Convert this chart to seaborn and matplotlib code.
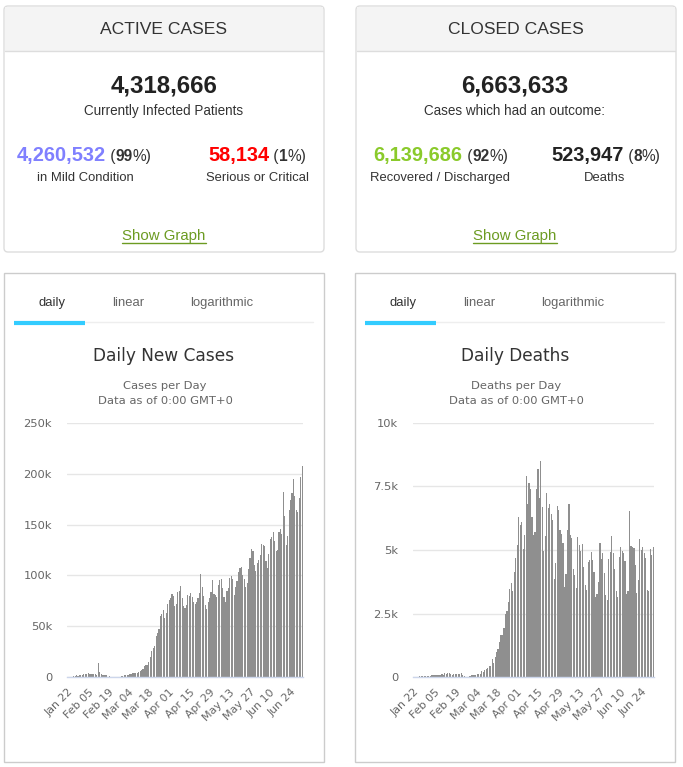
import matplotlib
matplotlib.use("Agg")
import matplotlib.pyplot as plt
import matplotlib.transforms as mtrans
from matplotlib.patches import FancyBboxPatch, Rectangle
from matplotlib.lines import Line2D
import seaborn as sns
import pandas as pd
import numpy as np

# ---------------- data ----------------
start_date = "2020-01-22"
tick_labels = ["Jan 22", "Feb 05", "Feb 19", "Mar 04", "Mar 18", "Apr 01", "Apr 15",
               "Apr 29", "May 13", "May 27", "Jun 10", "Jun 24"]

# daily new cases, thousands
cases_jan = [0, 0, 0, 0, 0.7, 0.8, 1.5, 1.2, 2.0, 1.7]
cases_feb = [2.1, 2.5, 3.1, 3.0, 3.5, 3.2, 3.4, 2.7, 3.0, 2.5, 2.0, 13.5, 5.0, 2.6, 2.0,
             2.0, 1.9, 1.8, 0.4, 0.5, 0.3, 0.2, 0.2, 0.3, 0.2, 0.2, 0.3, 1.2, 1.3]
cases_mar = [1.5, 1.8, 2.0, 2.2, 2.6, 3.0, 3.5, 3.9, 4.0, 4.2, 4.6, 5.5, 6.6, 7.8, 10.5,
             11.8, 11.5, 14.8, 19.7, 26.0, 28.6, 31.0, 40.0, 43.0, 47.0, 60.0, 62.5, 66.0,
             58.5, 63.0, 72.0]
cases_apr = [75.6, 78, 82, 80, 70, 72, 84, 84.5, 90, 78, 70, 68.4, 71, 81, 80, 83, 79, 74,
             72, 74, 78, 83, 101, 89, 80, 71, 67, 74, 78, 84]
cases_may = [95, 82, 81, 79, 91, 95, 96, 88, 79, 74, 85, 88, 97, 99, 96, 81, 89, 94, 103,
             107, 108, 100, 96, 89, 93, 106, 117, 126, 124, 110, 104]
cases_jun = [112, 115, 120, 131, 130, 129, 114, 107, 121, 136, 138, 143, 134, 124, 125, 143,
             146, 141, 182, 158, 130, 139, 164, 174, 181, 195, 178, 164, 162, 176]
cases_jul = [197, 208]

# daily deaths, thousands
deaths_jan = [0.017, 0.008, 0.016, 0.015, 0.024, 0.026, 0.026, 0.038, 0.043, 0.046]
deaths_feb = [0.045, 0.057, 0.064, 0.066, 0.073, 0.073, 0.086, 0.089, 0.097, 0.108, 0.097,
              0.150, 0.121, 0.143, 0.142, 0.106, 0.098, 0.136, 0.116, 0.119, 0.111, 0.099,
              0.155, 0.070, 0.020, 0.010, 0.005, 0.010, 0.020]
deaths_mar = [0.06, 0.07, 0.073, 0.084, 0.10, 0.104, 0.10, 0.23, 0.205, 0.28, 0.32, 0.35,
              0.42, 0.42, 0.69, 0.56, 0.79, 0.97, 1.10, 1.38, 1.65, 1.65, 1.93, 2.50, 2.60,
              2.95, 3.45, 3.70, 3.40, 4.15, 4.70]
deaths_apr = [5.2, 6.3, 6.0, 6.1, 5.05, 5.6, 7.9, 6.8, 7.65, 7.4, 6.3, 5.6, 5.7, 7.4, 8.2,
              7.05, 8.5, 6.7, 4.95, 5.55, 7.25, 6.65, 6.8, 6.4, 6.2, 3.85,
              4.49, 6.73, 6.57, 5.79]
deaths_may = [5.63, 5.29, 3.55, 4.06, 5.79, 6.80, 5.59, 5.46, 4.25, 4.02, 3.50, 5.51, 5.20,
              4.96, 5.25, 4.32, 3.63, 3.43, 4.53, 4.61, 4.92, 4.61, 4.15, 3.14, 3.25, 3.74,
              5.29, 4.66, 4.88, 4.11, 3.23]
deaths_jun = [3.04, 4.66, 4.92, 5.55, 4.88, 4.25, 3.40, 3.14, 4.74, 5.13, 4.96, 4.90, 4.58,
              3.27, 3.40, 6.53, 5.16, 5.13, 5.08, 4.41, 3.32, 3.80, 5.43, 5.00, 5.10, 4.87,
              4.70, 3.43, 3.38, 5.03]
deaths_jul = [4.82, 5.12]

cases = cases_jan + cases_feb + cases_mar + cases_apr + cases_may + cases_jun + cases_jul
deaths = deaths_jan + deaths_feb + deaths_mar + deaths_apr + deaths_may + deaths_jun + deaths_jul
n = min(len(cases), len(deaths))
dates = pd.date_range(start_date, periods=n, freq="D")
df = pd.DataFrame({"date": dates.strftime("%b %d"), "cases": cases[:n], "deaths": deaths[:n]})

cases_ticks = [0, 50, 100, 150, 200, 250]
cases_tick_labels = ["0", "50k", "100k", "150k", "200k", "250k"]
deaths_ticks = [0, 2.5, 5, 7.5, 10]
deaths_tick_labels = ["0", "2.5k", "5k", "7.5k", "10k"]

# ---------------- figure ----------------
W, H = 683, 767
sns.set_theme(style="white")
plt.rcParams["font.family"] = ["Liberation Sans", "DejaVu Sans"]
fig = plt.figure(figsize=(W / 100, H / 100), dpi=100)
fig.patch.set_facecolor("white")
PX = mtrans.Affine2D().scale(1 / W, -1 / H).translate(0, 1) + fig.transFigure
renderer = fig.canvas.get_renderer()


def pt(px):
    return px * 0.72


def txt(x, y, s, size, color="#333333", weight="normal", ha="center", family=None, **kw):
    return fig.text(x, y, s, transform=PX, fontsize=pt(size), color=color,
                    fontweight=weight, ha=ha, va="baseline",
                    family=family if family else ["Liberation Sans", "DejaVu Sans"], **kw)


def seq(xc, y, parts, ha="center"):
    items = []
    for s, size, weight, color in parts:
        t = txt(0, y, s, size, color, weight, ha="left")
        w = t.get_window_extent(renderer).width
        items.append((t, w))
    total = sum(w for _, w in items)
    x = xc - total / 2 if ha == "center" else xc
    for t, w in items:
        t.set_x(x)
        x += w


def panel_top(x0, x1, title):
    y0, y1 = 6, 252
    box = FancyBboxPatch((x0, y0), x1 - x0, y1 - y0, boxstyle="round,pad=0,rounding_size=4",
                         transform=PX, facecolor="white", edgecolor="#dddddd", lw=1, zorder=-5)
    fig.add_artist(box)
    hdr = Rectangle((x0 + 1, y0 + 1), x1 - x0 - 2, 44, transform=PX, facecolor="#f4f4f4",
                    edgecolor="none", zorder=-4)
    fig.add_artist(hdr)
    fig.add_artist(Line2D([x0 + 1, x1 - 1], [51, 51], transform=PX, color="#dddddd", lw=1))
    txt((x0 + x1) / 2, 34, title, 17.5, color="#333333")


panel_top(4, 324, "ACTIVE CASES")
panel_top(356, 676, "CLOSED CASES")

NUM = 20
PAR = 15.5
# Active cases panel texts
txt(164, 92, "4,318,666", 24, color="#222222", weight="bold")
txt(164, 115, "Currently Infected Patients", 13.5, color="#333333")
seq(84, 161, [("4,260,532", NUM, "bold", "#8080FF"), (" (", PAR, "normal", "#333333"),
              ("99", PAR, "bold", "#333333"), ("%)", PAR, "normal", "#333333")])
txt(85, 181, "in Mild Condition", 13, color="#333333")
seq(257, 161, [("58,134", NUM, "bold", "#FF0000"), (" (", PAR, "normal", "#333333"),
               ("1", PAR, "bold", "#333333"), ("%)", PAR, "normal", "#333333")])
txt(257, 181, "Serious or Critical", 13, color="#333333")

# Closed cases panel texts
txt(515, 92, "6,663,633", 24, color="#222222", weight="bold")
txt(515, 115, "Cases which had an outcome:", 13.5, color="#333333")
seq(441, 161, [("6,139,686", NUM, "bold", "#8ACA2B"), (" (", PAR, "normal", "#333333"),
               ("92", PAR, "bold", "#333333"), ("%)", PAR, "normal", "#333333")])
txt(440, 181, "Recovered / Discharged", 13, color="#333333")
seq(606, 161, [("523,947", NUM, "bold", "#222222"), (" (", PAR, "normal", "#333333"),
               ("8", PAR, "bold", "#333333"), ("%)", PAR, "normal", "#333333")])
txt(605, 181, "Deaths", 13, color="#333333")

for xc in (164, 515):
    t = txt(xc, 240, "Show Graph", 15, color="#6C9B22")
    bb = t.get_window_extent(renderer)
    fig.add_artist(Line2D([xc - bb.width / 2, xc + bb.width / 2], [243, 243], transform=PX,
                          color="#6C9B22", lw=1))


def chart_panel(x0, title, subtitle, col, ticks, tlabels, ymax, ax_x0, ax_x1):
    x1 = x0 + 320
    fig.add_artist(Rectangle((x0, 273), 320, 489, transform=PX, facecolor="none",
                             edgecolor="#cccccc", lw=1, zorder=-5))
    txt(x0 + 48, 306, "daily", 13, color="#333333")
    txt(x0 + 124, 306, "linear", 13, color="#666666")
    txt(x0 + 218, 306, "logarithmic", 13, color="#666666")
    fig.add_artist(Line2D([x0 + 10, x1 - 11], [322, 322], transform=PX, color="#eeeeee", lw=1))
    fig.add_artist(Line2D([x0 + 10, x0 + 81], [322.5, 322.5], transform=PX, color="#33CCFF",
                          lw=3, solid_capstyle="butt"))
    txt(x0 + 160, 361, title, 17, color="#333333", family=["DejaVu Sans"])
    txt(x0 + 161, 389, subtitle, 11.5, color="#666666", family=["DejaVu Sans"])
    txt(x0 + 161, 404, "Data as of 0:00 GMT+0", 11.5, color="#666666", family=["DejaVu Sans"])

    ax = fig.add_axes([ax_x0 / W, 1 - 677 / H, (ax_x1 - ax_x0) / W, (677 - 423) / H])
    ax.set_zorder(5)
    sns.barplot(data=df, x="date", y=col, ax=ax, color="#8f8f8f", saturation=1,
                width=0.8, errorbar=None, linewidth=0)
    ax.set_xlim(-0.6, len(df) - 0.4)
    ax.set_ylim(0, ymax)
    ax.set_yticks(ticks)
    ax.set_yticklabels(tlabels, fontsize=pt(11.5), color="#666666", family="DejaVu Sans")
    ax.set_xticks(np.arange(0, len(df), 14)[:len(tick_labels)])
    ax.set_xticklabels(tick_labels, rotation=45, ha="right", rotation_mode="anchor",
                       fontsize=pt(11), color="#666666", family="DejaVu Sans")
    ax.tick_params(axis="y", length=0, pad=pt(15))
    ax.tick_params(axis="x", length=0, pad=pt(10))
    ax.set_xlabel("")
    ax.set_ylabel("")
    ax.grid(axis="y", color="#e6e6e6", lw=1)
    ax.set_axisbelow(True)
    for s in ("top", "right", "left"):
        ax.spines[s].set_visible(False)
    ax.spines["bottom"].set_color("#ccd6eb")
    ax.spines["bottom"].set_linewidth(1)
    ax.patch.set_alpha(0)
    return ax


chart_panel(4, "Daily New Cases", "Cases per Day", "cases", cases_ticks, cases_tick_labels,
            250, 67, 303)
chart_panel(355, "Daily Deaths", "Deaths per Day", "deaths", deaths_ticks, deaths_tick_labels,
            10, 413, 654)

fig.savefig("out.png", dpi=100, facecolor="white")
